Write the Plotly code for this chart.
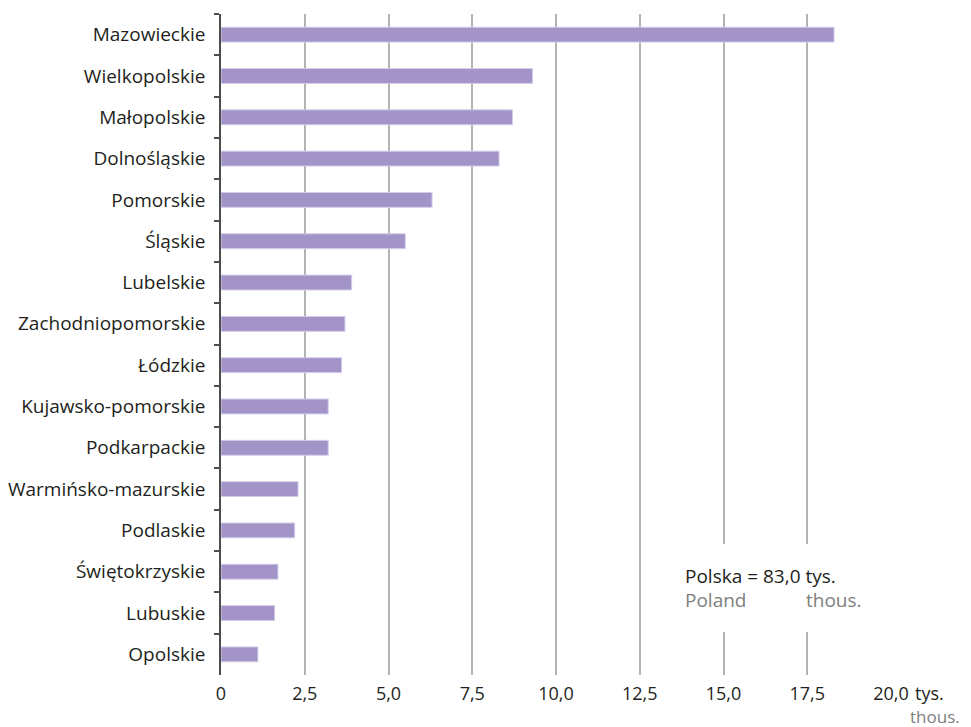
import plotly.graph_objects as go

regions = ["Mazowieckie", "Wielkopolskie", "Małopolskie", "Dolnośląskie", "Pomorskie",
           "Śląskie", "Lubelskie", "Zachodniopomorskie", "Łódzkie", "Kujawsko-pomorskie",
           "Podkarpackie", "Warmińsko-mazurskie", "Podlaskie", "Świętokrzyskie",
           "Lubuskie", "Opolskie"]
values = [18.3, 9.3, 8.7, 8.3, 6.3, 5.5, 3.9, 3.7, 3.6, 3.2, 3.2, 2.3, 2.2, 1.7, 1.6, 1.1]
tick_vals = [0, 2.5, 5, 7.5, 10, 12.5, 15, 17.5, 20]
tick_text = ["0", "2,5", "5,0", "7,5", "10,0", "12,5", "15,0", "17,5", "20,0"]

FONT = "Open Sans"
TXT = "#231f20"
GREY = "#808080"

fig = go.Figure()
fig.add_trace(go.Bar(
    x=values, y=regions, orientation="h",
    width=0.36,
    marker=dict(color="#a394c8", line=dict(color="#d4cceb", width=1)),
    hoverinfo="x+y",
))

# page body has an 8px default margin; figure is sized to fit inside the window
fig.update_layout(
    width=963, height=719,
    margin=dict(l=213, r=80, t=6, b=52, autoexpand=False),
    paper_bgcolor="white", plot_bgcolor="white",
    showlegend=False,
    font=dict(family=FONT, size=18, color=TXT),
    xaxis=dict(
        range=[0, 20], tickvals=tick_vals, ticktext=tick_text,
        showgrid=True, gridcolor="#b3b3b3", gridwidth=1.5,
        zeroline=False, showline=False, ticks="",
        tickfont=dict(family=FONT, size=18, color=TXT),
        ticklabelstandoff=6, automargin=False,
    ),
    yaxis=dict(
        autorange="reversed", type="category",
        showline=True, linecolor="#4d4d4d", linewidth=1.5,
        ticks="outside", tickson="boundaries", ticklen=5, tickcolor="#4d4d4d", tickwidth=1.5,
        tickfont=dict(family=FONT, size=19, color=TXT),
        ticklabelstandoff=10, automargin=False,
        showgrid=False, zeroline=False,
    ),
)

# white box interrupting gridlines behind the total annotation
fig.add_shape(type="rect", xref="x", yref="paper", x0=13.15, x1=18.95, y0=0.065, y1=0.198,
              fillcolor="white", line=dict(width=0), layer="above")

fig.add_annotation(xref="x", yref="paper", x=13.8, y=0.150, xanchor="left", yanchor="middle",
                   text="Polska = 83,0 tys.", showarrow=False,
                   font=dict(family=FONT, size=19, color=TXT))
fig.add_annotation(xref="x", yref="paper", x=13.8, y=0.113, xanchor="left", yanchor="middle",
                   text="Poland", showarrow=False,
                   font=dict(family=FONT, size=19, color=GREY))
fig.add_annotation(xref="x", yref="paper", x=17.4, y=0.113, xanchor="left", yanchor="middle",
                   text="thous.", showarrow=False,
                   font=dict(family=FONT, size=19, color=GREY))

# unit labels next to the last tick
fig.add_annotation(xref="x", yref="paper", x=20, y=0, xanchor="left", yanchor="middle",
                   xshift=22, yshift=-18, text="tys.", showarrow=False,
                   font=dict(family=FONT, size=18, color=TXT))
fig.add_annotation(xref="x", yref="paper", x=20, y=0, xanchor="right", yanchor="middle",
                   xshift=71, yshift=-41, text="thous.", showarrow=False,
                   font=dict(family=FONT, size=17, color=GREY))

fig.write_html("out.html")
